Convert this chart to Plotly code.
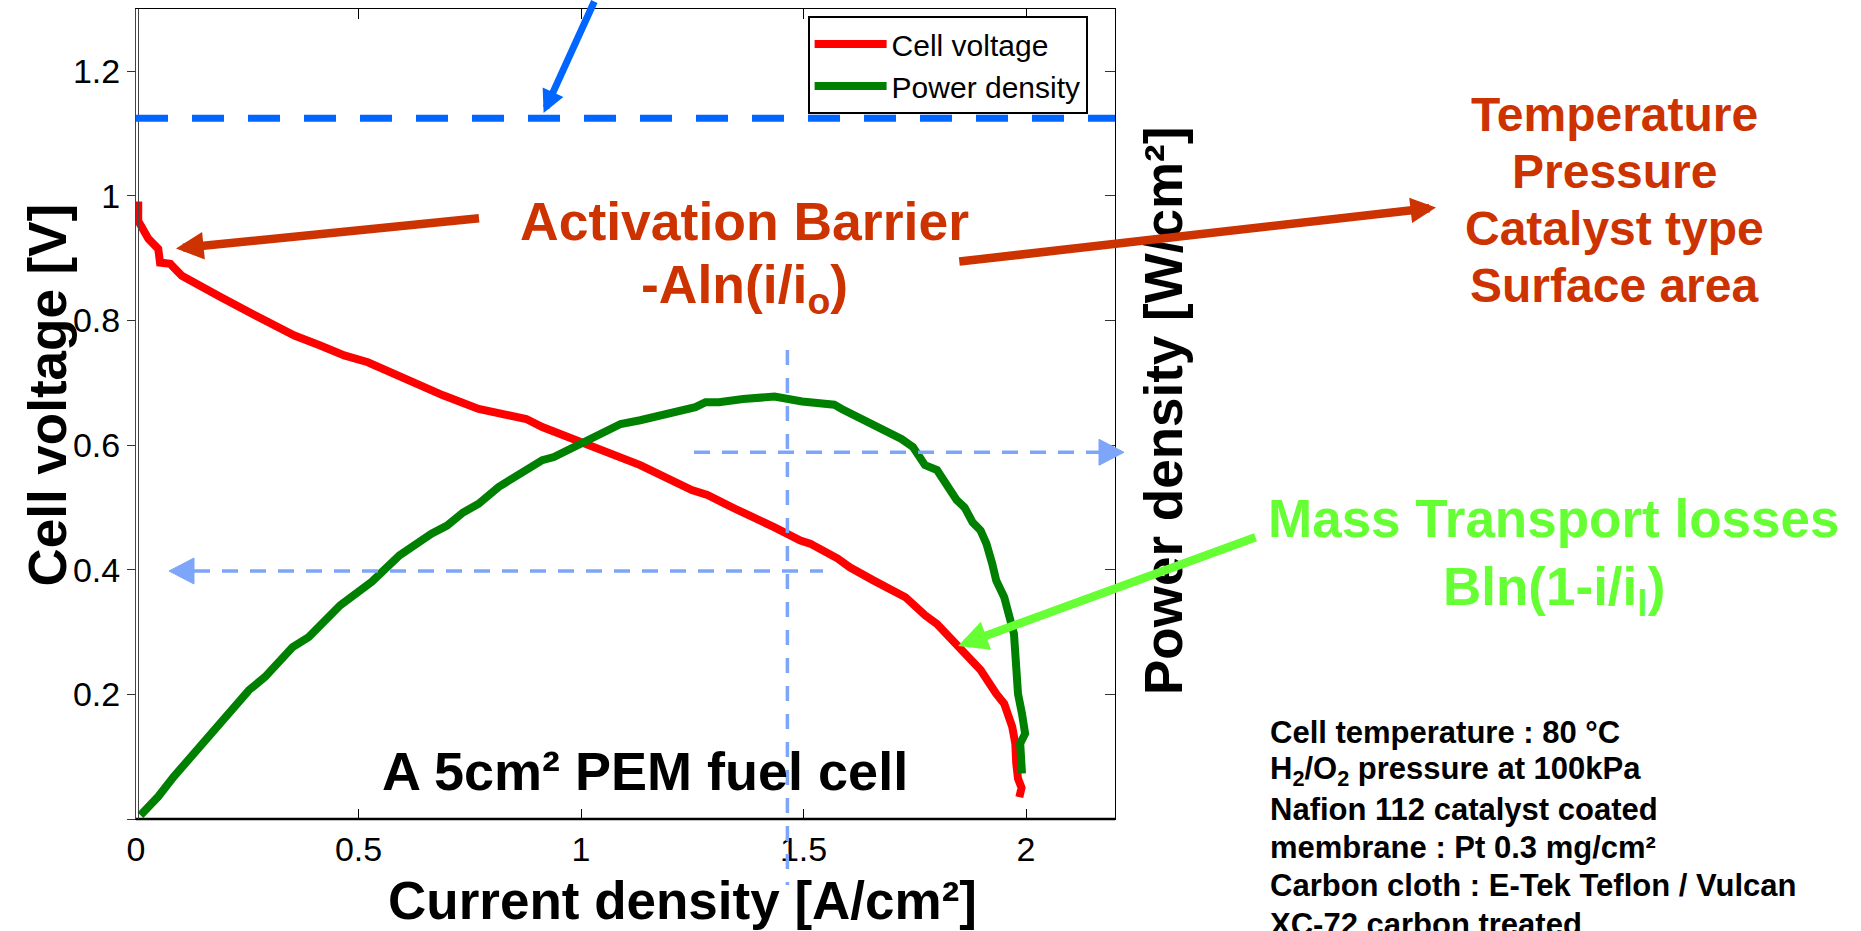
import plotly.graph_objects as go

# ---------------- data ----------------
current_v = [0.005, 0.005, 0.028, 0.050, 0.054, 0.077, 0.103, 0.152, 0.192, 0.263,
             0.325, 0.356, 0.414, 0.468, 0.521, 0.619, 0.690, 0.770, 0.877, 0.913,
             0.984, 1.044, 1.133, 1.249, 1.284, 1.346, 1.408, 1.435, 1.493, 1.515,
             1.577, 1.604, 1.657, 1.729, 1.773, 1.800, 1.849, 1.898, 1.933, 1.951,
             1.969, 1.976, 1.978, 1.982, 1.990, 1.985]
cell_voltage = [0.991, 0.960, 0.931, 0.915, 0.893, 0.891, 0.872, 0.851, 0.837, 0.810,
                0.789, 0.776, 0.760, 0.744, 0.733, 0.701, 0.680, 0.658, 0.642, 0.629,
                0.610, 0.594, 0.568, 0.528, 0.520, 0.498, 0.479, 0.468, 0.447, 0.442,
                0.418, 0.404, 0.383, 0.356, 0.327, 0.313, 0.276, 0.239, 0.201, 0.185,
                0.148, 0.121, 0.090, 0.065, 0.050, 0.035]

current_p = [0.010, 0.030, 0.050, 0.085, 0.134, 0.156, 0.254, 0.290, 0.352, 0.388,
             0.433, 0.459, 0.530, 0.592, 0.664, 0.699, 0.735, 0.770, 0.815, 0.913,
             0.939, 1.037, 1.089, 1.133, 1.222, 1.257, 1.280, 1.310, 1.364, 1.408,
             1.435, 1.497, 1.569, 1.586, 1.631, 1.666, 1.720, 1.746, 1.773, 1.800,
             1.827, 1.844, 1.862, 1.880, 1.898, 1.911, 1.924, 1.933, 1.951, 1.960,
             1.969, 1.973, 1.978, 1.982, 1.991, 1.998, 1.987, 1.991]
power_density = [0.006, 0.020, 0.036, 0.068, 0.108, 0.129, 0.207, 0.228, 0.276, 0.292,
                 0.327, 0.343, 0.381, 0.423, 0.458, 0.471, 0.492, 0.506, 0.533, 0.576,
                 0.581, 0.618, 0.634, 0.640, 0.656, 0.661, 0.669, 0.669, 0.674, 0.677,
                 0.678, 0.670, 0.665, 0.658, 0.642, 0.626, 0.610, 0.597, 0.568, 0.560,
                 0.530, 0.512, 0.500, 0.476, 0.463, 0.442, 0.410, 0.383, 0.356, 0.330,
                 0.306, 0.297, 0.244, 0.201, 0.169, 0.137, 0.121, 0.073]

x_tick_vals = [0, 0.5, 1, 1.5, 2]
x_tick_text = ["0", "0.5", "1", "1.5", "2"]
y_tick_vals = [0, 0.2, 0.4, 0.6, 0.8, 1.0, 1.2]
y_tick_text = ["", "0.2", "0.4", "0.6", "0.8", "1", "1.2"]
x_range = [0, 2.2]
y_range = [0, 1.3]

# ---------------- layout geometry ----------------
W, H = 1861, 931
L, R, T, B = 136, 1115, 9, 819
FONT = "Liberation Sans, Arial, Helvetica, sans-serif"


def px(X):
    return (X - L) / (R - L)


def py(Y):
    return (B - Y) / (B - T)


fig = go.Figure()
fig.add_trace(go.Scatter(x=current_v, y=cell_voltage, mode="lines", name="Cell voltage",
                         line=dict(color="#FF0000", width=8)))
fig.add_trace(go.Scatter(x=current_p, y=power_density, mode="lines", name="Power density",
                         line=dict(color="#008000", width=8), yaxis="y2"))

tickfont = dict(family=FONT, size=34, color="black")
fig.update_layout(
    width=W, height=H,
    margin=dict(l=L, r=W - R, t=T, b=H - B, autoexpand=False),
    paper_bgcolor="white", plot_bgcolor="white",
    xaxis=dict(range=x_range, tickvals=x_tick_vals, ticktext=x_tick_text,
               ticks="inside", ticklen=10, tickcolor="black", tickwidth=1,
               showline=True, linecolor="black", linewidth=1, mirror="ticks",
               showgrid=False, zeroline=False, tickfont=tickfont),
    yaxis=dict(range=y_range, tickvals=y_tick_vals, ticktext=y_tick_text,
               ticks="outside", ticklen=8, tickcolor="#333333", tickwidth=1,
               showline=True, linecolor="#444444", linewidth=1,
               showgrid=False, zeroline=False, tickfont=tickfont),
    yaxis2=dict(range=y_range, overlaying="y", side="right", tickvals=y_tick_vals,
                showticklabels=False, ticks="inside", ticklen=10, tickcolor="#333333",
                showline=True, linecolor="black", linewidth=1,
                showgrid=False, zeroline=False),
    legend=dict(x=px(807.6), y=py(16), xanchor="left", yanchor="top",
                bordercolor="black", borderwidth=2, bgcolor="white",
                font=dict(family=FONT, size=30, color="black"),
                itemwidth=72, tracegroupgap=0),
    showlegend=True,
)

shapes = []
# thicker bottom axis line and doubled left axis line
shapes.append(dict(type="line", xref="paper", yref="paper", x0=0, x1=1, y0=0, y1=0,
                   line=dict(color="black", width=2.5)))
shapes.append(dict(type="line", xref="paper", yref="paper", x0=px(138.5), x1=px(138.5),
                   y0=0, y1=1, line=dict(color="#444444", width=1)))
# theoretical potential (dashed blue)
shapes.append(dict(type="line", xref="paper", yref="paper", x0=0, x1=1,
                   y0=py(118.3), y1=py(118.3),
                   line=dict(color="#0066FF", width=7, dash="32px,24px")))
# light blue dotted guide lines with arrowheads
GUIDE = "rgb(125,165,250)"
shapes.append(dict(type="line", xref="paper", yref="paper", x0=px(194), x1=px(823),
                   y0=py(571), y1=py(571), line=dict(color=GUIDE, width=3.5, dash="16px,12px")))
shapes.append(dict(type="line", xref="paper", yref="paper", x0=px(694), x1=px(1100),
                   y0=py(452.3), y1=py(452.3), line=dict(color=GUIDE, width=3.5, dash="16px,12px")))
shapes.append(dict(type="line", xref="paper", yref="paper", x0=px(787.4), x1=px(787.4),
                   y0=py(350), y1=py(885), line=dict(color=GUIDE, width=3.5, dash="15px,13px")))


def tri(tipX, tipY, baseX, half):
    return ("M {:.5f},{:.5f} L {:.5f},{:.5f} L {:.5f},{:.5f} Z".format(
        px(tipX), py(tipY), px(baseX), py(tipY - half), px(baseX), py(tipY + half)))


shapes.append(dict(type="path", xref="paper", yref="paper", path=tri(169, 571, 194, 13),
                   fillcolor=GUIDE, line=dict(color=GUIDE, width=1)))
shapes.append(dict(type="path", xref="paper", yref="paper", path=tri(1124, 452.3, 1099, 13),
                   fillcolor=GUIDE, line=dict(color=GUIDE, width=1)))
fig.update_layout(shapes=shapes)

ORANGE = "#CC3300"
LIME = "#66FF33"
ann = []


def text(X, Y, s, size, color="black", xanchor="center", angle=0):
    ann.append(dict(xref="paper", yref="paper", x=px(X), y=py(Y), text=s, showarrow=False,
                    xanchor=xanchor, yanchor="middle", textangle=angle,
                    font=dict(family=FONT, size=size, color=color)))


def arrow(headX, headY, tailX, tailY, color, width, size):
    ann.append(dict(xref="paper", yref="paper", x=px(headX), y=py(headY), text="",
                    showarrow=True, arrowhead=2, arrowsize=size, arrowwidth=width,
                    arrowcolor=color, ax=tailX - headX, ay=tailY - headY, standoff=0))


# axis titles
text(46.6, 395, "<b>Cell voltage [V]</b>", 53, angle=-90)
text(1163, 411, "<b>Power density [W/cm²]</b>", 53, angle=-90)
text(682.5, 900, "<b>Current density [A/cm²]</b>", 53)
# inside label
text(645, 771, "<b>A 5cm² PEM fuel cell</b>", 54)
# activation barrier
text(744.8, 221.5, "<b>Activation Barrier</b>", 53.5, ORANGE)
text(744.3, 288, "<b>-Aln(i/i<sub>o</sub>)</b>", 53.5, ORANGE)
# factors
for Y, s in [(114.1, "Temperature"), (171.7, "Pressure"), (228.4, "Catalyst type"),
             (285.1, "Surface area")]:
    text(1614.4, Y, "<b>" + s + "</b>", 48, ORANGE)
# mass transport
text(1553, 518.3, "<b>Mass Transport losses</b>", 53, LIME)
text(1554, 590, "<b>Bln(1-i/i<sub>l</sub>)</b>", 53, LIME)
# conditions
notes = ["Cell temperature : 80 °C",
         "H<sub>2</sub>/O<sub>2</sub> pressure at 100kPa",
         "Nafion 112 catalyst coated",
         "membrane : Pt 0.3 mg/cm²",
         "Carbon cloth : E-Tek Teflon / Vulcan",
         "XC-72 carbon treated"]
for i, s in enumerate(notes):
    text(1268, 732.6 + 38.3 * i, "<b>" + s + "</b>", 31, xanchor="left")

# arrows
arrow(543.6, 113, 595, -30, "#0066FF", 7, 0.65)
arrow(176, 248.5, 480.5, 218, ORANGE, 8.5, 0.65)
arrow(1436, 207.5, 957.8, 261.7, ORANGE, 8.5, 0.6)
arrow(958, 646, 1257, 536.7, LIME, 8.5, 0.7)

fig.update_layout(annotations=ann)
fig.write_html("out.html")
